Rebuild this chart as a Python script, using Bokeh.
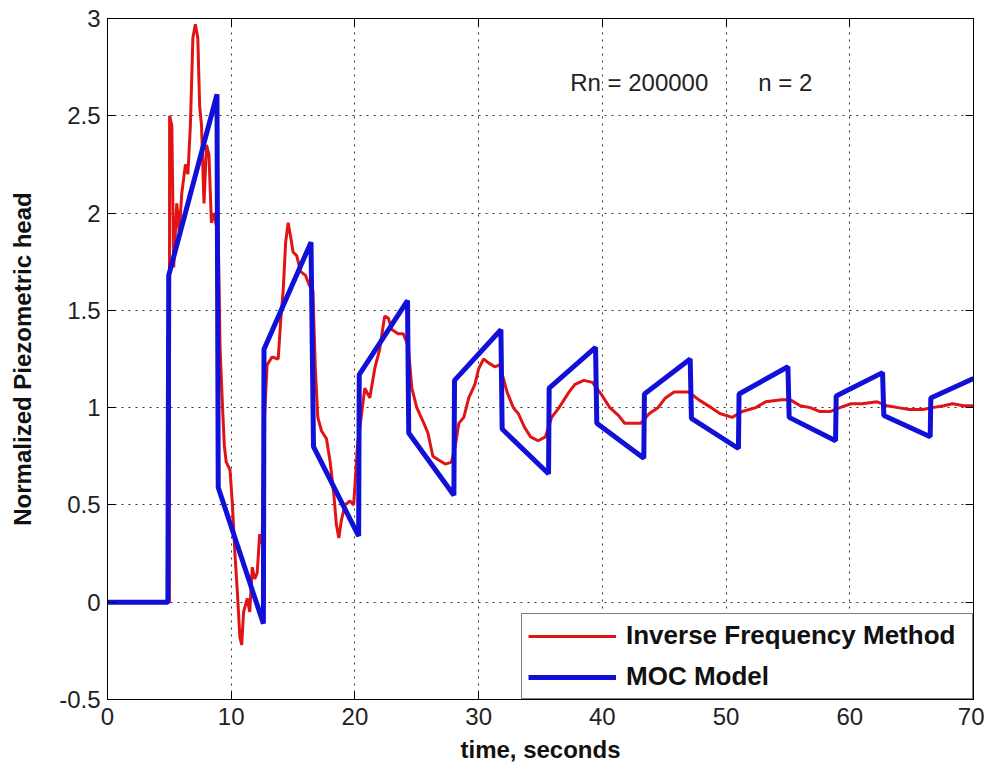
from bokeh.plotting import figure
from bokeh.models import LinearAxis, FixedTicker, Label, Legend, LegendItem, Range1d
from bokeh.embed import file_html
from bokeh.resources import INLINE

# ---- data ----
ifm_t = [0, 5.0, 5.02, 5.2, 5.35, 5.6, 5.8, 6.0, 6.3, 6.5, 6.7, 6.9, 7.1, 7.3, 7.45, 7.6, 7.8, 8.0, 8.2,
         8.4, 8.6, 8.75, 8.95, 9.1, 9.3, 9.45, 9.6, 9.9, 10.1, 10.3, 10.5, 10.7, 10.85, 11.0, 11.3, 11.5,
         11.7, 11.9, 12.1, 12.3, 12.5, 12.65, 12.9, 13.3, 13.8, 14.0, 14.2, 14.4, 14.6, 14.8, 15.0, 15.3,
         15.6, 16.0, 16.3, 16.6, 16.8, 17.0, 17.3, 17.7, 18.0, 18.3, 18.5, 18.7, 18.9, 19.2, 19.6, 19.9,
         20.2, 20.5, 20.8, 21.2, 21.6, 22.0, 22.4, 22.7, 23.0, 23.5, 23.9, 24.3, 24.6, 25.0, 25.5, 25.9,
         26.3, 26.8, 27.3, 27.8, 28.1, 28.4, 28.8, 29.2, 29.7, 30.0, 30.4, 30.8, 31.3, 31.7, 32.3, 32.8,
         33.2, 33.7, 34.2, 34.8, 35.4, 35.9, 36.5, 37.3, 37.8, 38.5, 39.2, 39.9, 40.6, 41.3, 41.8, 42.5,
         43.1, 43.8, 44.5, 45.1, 45.8, 47.0, 47.8, 48.8, 49.5, 50.5, 51.3, 52.4, 53.2, 54.5, 55.2, 56.0,
         56.8, 57.6, 58.4, 59.2, 60.1, 61.0, 62.2, 63.0, 63.9, 64.8, 65.9, 66.7, 67.6, 68.3, 69.2, 70.0]
ifm_h = [0, 0, 2.5, 2.45, 1.72, 2.05, 1.9, 2.1, 2.25, 2.2, 2.45, 2.9, 2.97, 2.9, 2.55, 2.45, 2.05, 2.35, 2.3,
         1.95, 2.0, 1.95, 1.9, 1.3, 1.0, 0.8, 0.72, 0.68, 0.5, 0.25, 0.05, -0.18, -0.22, -0.05, 0.02, -0.05,
         0.18, 0.12, 0.15, 0.35, 0.3, 0.9, 1.22, 1.26, 1.25, 1.45, 1.6, 1.85, 1.95, 1.88, 1.8, 1.78,
         1.7, 1.68, 1.63, 1.6, 1.2, 0.95, 0.88, 0.84, 0.72, 0.55, 0.4, 0.33, 0.42, 0.5, 0.52, 0.5,
         0.8, 0.95, 1.1, 1.05, 1.2, 1.3, 1.47, 1.46, 1.4, 1.38, 1.38, 1.32, 1.1, 1.0, 0.93, 0.87,
         0.75, 0.73, 0.71, 0.72, 0.8, 0.92, 0.95, 1.05, 1.12, 1.2, 1.25, 1.23, 1.21, 1.22, 1.08, 1.0,
         0.97, 0.9, 0.85, 0.83, 0.85, 0.95, 1.0, 1.08, 1.12, 1.14, 1.13, 1.07, 1.0, 0.96, 0.92, 0.92,
         0.92, 0.97, 1.0, 1.05, 1.08, 1.08, 1.04, 1.0, 0.97, 0.95, 0.98, 1.0, 1.03, 1.04, 1.04, 1.01,
         1.0, 0.98, 0.98, 1.0, 1.02, 1.02, 1.03, 1.01, 1.0, 0.99, 0.99, 1.0, 1.01, 1.02, 1.01, 1.01]

moc_t = [0, 4.88, 4.95, 8.85, 8.95, 12.6, 12.65, 16.45, 16.65, 20.3, 20.35, 24.25, 24.35, 28.0, 28.05,
         31.8, 31.9, 35.65, 35.7, 39.45, 39.55, 43.35, 43.4, 47.1, 47.2, 51.0, 51.05, 55.0, 55.1,
         58.85, 58.9, 62.65, 62.75, 66.5, 66.55, 70.0]
moc_h = [0, 0, 1.68, 2.61, 0.59, -0.11, 1.30, 1.85, 0.80, 0.34, 1.17, 1.55, 0.87, 0.55, 1.14,
         1.40, 0.89, 0.66, 1.10, 1.31, 0.92, 0.74, 1.07, 1.25, 0.945, 0.79, 1.07, 1.21, 0.95,
         0.83, 1.06, 1.18, 0.96, 0.85, 1.05, 1.15]

x_ticks = [0, 10, 20, 30, 40, 50, 60, 70]
y_ticks = [-0.5, 0, 0.5, 1, 1.5, 2, 2.5, 3]
y_tick_labels = ["-0.5", "0", "0.5", "1", "1.5", "2", "2.5", "3"]
x_tick_labels = ["0", "10", "20", "30", "40", "50", "60", "70"]

series_names = ["Inverse Frequency Method", "MOC Model"]
annot_1 = ("Rn = 200000", 37.4, 2.67)
annot_2 = ("n = 2", 52.6, 2.67)

FONT = "Liberation Sans"
RED = "#e01414"
BLUE = "#1010d8"

p = figure(width=984, height=771, output_backend="svg", toolbar_location=None,
           x_range=Range1d(0, 70), y_range=Range1d(-0.5, 3),
           min_border_left=107, min_border_right=11, min_border_top=18, min_border_bottom=72,
           background_fill_color="white", border_fill_color="white")
p.outline_line_color = "black"
p.outline_line_width = 1

r_ifm = p.line(ifm_t, ifm_h, line_color=RED, line_width=3)
r_moc = p.line(moc_t, moc_h, line_color=BLUE, line_width=5)

xt = FixedTicker(ticks=x_ticks)
yt = FixedTicker(ticks=y_ticks)

for ax in p.xaxis:
    ax.ticker = xt
    ax.major_label_overrides = {t: l for t, l in zip(x_ticks, x_tick_labels)}
    ax.axis_label = "time, seconds"
for ax in p.yaxis:
    ax.ticker = yt
    ax.major_label_overrides = {t: l for t, l in zip(y_ticks, y_tick_labels)}
    ax.axis_label = "Normalized Piezometric head"

for ax in list(p.xaxis) + list(p.yaxis):
    ax.major_tick_in = 8
    ax.major_tick_out = 0
    ax.minor_tick_in = 0
    ax.minor_tick_out = 0
    ax.axis_line_color = "black"
    ax.major_tick_line_color = "black"
    ax.major_label_text_font = FONT
    ax.major_label_text_font_size = "24px"
    ax.major_label_text_color = "#222222"
    ax.axis_label_text_font = FONT
    ax.axis_label_text_font_size = "24px"
    ax.axis_label_text_font_style = "bold"
    ax.axis_label_text_color = "#111111"
p.xaxis.major_label_standoff = 8
p.xaxis.axis_label_standoff = 8
p.yaxis.major_label_standoff = 7
p.yaxis.axis_label_standoff = 20

top = LinearAxis(ticker=xt, major_tick_in=8, major_tick_out=0, minor_tick_in=0, minor_tick_out=0,
                 major_label_text_font_size="4px", major_label_text_color=None,
                 major_label_standoff=0, axis_line_color="black")
right = LinearAxis(ticker=yt, major_tick_in=8, major_tick_out=0, minor_tick_in=0, minor_tick_out=0,
                   major_label_text_font_size="2px", major_label_text_color=None,
                   major_label_standoff=0, axis_line_color="black")
p.add_layout(top, "above")
p.add_layout(right, "right")

for g in (p.xgrid, p.ygrid):
    g.grid_line_color = "black"
    g.grid_line_alpha = 0.8
    g.grid_line_dash = "2 5"
    g.grid_line_width = 1

for txt, xx, yy in (annot_1, annot_2):
    p.add_layout(Label(x=xx, y=yy, text=txt, text_font=FONT, text_font_size="24px",
                       text_baseline="middle", text_color="#222222"))

legend = Legend(items=[LegendItem(label=series_names[0], renderers=[r_ifm]),
                       LegendItem(label=series_names[1], renderers=[r_moc])],
                location="bottom_right", margin=0, padding=6, spacing=10,
                glyph_width=88, glyph_height=30, label_height=30, label_width=340,
                label_standoff=10, border_line_color="black", border_line_width=1,
                label_text_font=FONT, label_text_font_size="26px", label_text_font_style="bold",
                label_text_color="#111111", background_fill_color="white", background_fill_alpha=1)
p.add_layout(legend, "center")

open("out.html", "w").write(file_html(p, INLINE))
